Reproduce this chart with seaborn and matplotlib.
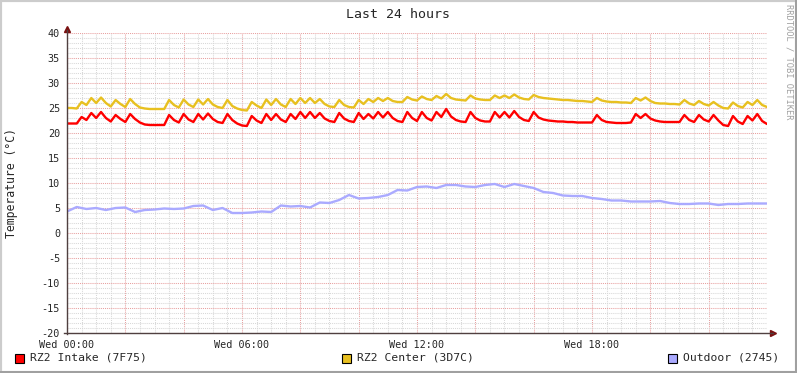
import numpy as np
import pandas as pd
import matplotlib.pyplot as plt
import seaborn as sns
from matplotlib.patches import Rectangle
from matplotlib.ticker import MultipleLocator, FixedLocator, FuncFormatter

# rack sensors, 10 minute samples starting Wed 00:00
rack_hours = [i / 6 for i in range(145)]

intake_7f75 = [
    21.9, 21.9, 21.9, 23.2, 22.6, 24.0, 23.0, 24.2, 23.0, 22.3,
    23.6, 22.8, 22.2, 23.8, 22.8, 22.1, 21.7, 21.6, 21.6, 21.6,
    21.6, 23.6, 22.6, 22.1, 23.8, 22.7, 22.2, 23.8, 22.7, 23.9,
    22.8, 22.2, 22.0, 23.8, 22.6, 21.9, 21.5, 21.4, 23.4, 22.5,
    22.0, 23.8, 22.6, 23.8, 22.7, 22.2, 23.8, 22.8, 24.2, 23.0,
    24.2, 23.0, 24.0, 22.9, 22.4, 22.2, 24.0, 22.9, 22.4, 22.2,
    24.0, 22.8, 23.8, 22.9, 24.2, 23.1, 24.2, 23.0, 22.4, 22.2,
    24.2, 23.0, 22.4, 24.2, 23.0, 22.5, 24.2, 23.2, 24.8, 23.3,
    22.6, 22.3, 22.2, 24.2, 23.0, 22.5, 22.3, 22.3, 24.2, 23.1,
    24.2, 23.1, 24.4, 23.2, 22.6, 22.4, 24.2, 23.1, 22.7, 22.5,
    22.4, 22.3, 22.3, 22.2, 22.2, 22.1, 22.1, 22.1, 22.1, 23.6,
    22.6, 22.2, 22.1, 22.0, 22.0, 22.0, 22.1, 23.8, 23.0, 23.8,
    22.9, 22.5, 22.3, 22.2, 22.2, 22.2, 22.2, 23.6, 22.6, 22.2,
    23.6, 22.7, 22.3, 23.6, 22.5, 21.6, 21.4, 23.4, 22.3, 21.8,
    23.4, 22.5, 23.8, 22.4, 21.8,
]

center_3d7c = [
    25.0, 25.0, 24.9, 26.2, 25.6, 27.0, 26.0, 27.1, 26.0, 25.3,
    26.6, 25.8, 25.2, 26.8, 25.8, 25.1, 24.9, 24.8, 24.8, 24.8,
    24.8, 26.6, 25.6, 25.1, 26.7, 25.7, 25.2, 26.7, 25.7, 26.8,
    25.7, 25.2, 25.0, 26.6, 25.4, 24.9, 24.6, 24.5, 26.2, 25.5,
    25.0, 26.7, 25.6, 26.8, 25.7, 25.2, 26.8, 25.8, 27.0, 26.0,
    27.0, 26.0, 26.8, 25.8, 25.3, 25.2, 26.6, 25.6, 25.2, 25.1,
    26.6, 25.8, 26.8, 26.2, 27.0, 26.4, 27.0, 26.4, 26.2, 26.2,
    27.2, 26.7, 26.5, 27.3, 26.8, 26.6, 27.4, 26.9, 27.8, 27.0,
    26.7, 26.6, 26.5, 27.5, 26.9, 26.7, 26.6, 26.6, 27.5, 27.0,
    27.5, 27.0, 27.7, 27.1, 26.8, 26.7, 27.6, 27.2, 27.0, 26.9,
    26.8, 26.7, 26.6, 26.6, 26.5, 26.4, 26.4, 26.3, 26.2, 27.0,
    26.5, 26.3, 26.2, 26.2, 26.1, 26.1, 26.0, 27.0, 26.5, 27.1,
    26.4, 26.0, 25.9, 25.9, 25.8, 25.8, 25.7, 26.6, 25.9, 25.6,
    26.4, 25.8, 25.5, 26.2, 25.5, 25.0, 24.9, 26.1, 25.4, 25.1,
    26.2, 25.6, 26.6, 25.6, 25.2,
]

# outdoor sensor, 20 minute samples
outdoor_hours = [i / 3 for i in range(73)]
outdoor_2745 = [
    4.3, 5.2, 4.8, 5.0, 4.6, 5.0, 5.1, 4.2, 4.6, 4.7,
    4.9, 4.8, 4.9, 5.4, 5.5, 4.6, 5.0, 4.0, 4.0, 4.1,
    4.3, 4.2, 5.5, 5.3, 5.4, 5.1, 6.1, 6.0, 6.6, 7.6,
    6.9, 7.0, 7.2, 7.6, 8.6, 8.5, 9.2, 9.3, 9.0, 9.6,
    9.6, 9.3, 9.2, 9.6, 9.8, 9.2, 9.8, 9.4, 9.0, 8.2,
    8.0, 7.5, 7.4, 7.4, 7.0, 6.8, 6.5, 6.5, 6.3, 6.3,
    6.3, 6.4, 6.0, 5.8, 5.8, 5.9, 5.9, 5.6, 5.8, 5.8,
    5.9, 5.9, 5.9,
]

series_names = ['RZ2 Intake (7F75)', 'RZ2 Center (3D7C)', 'Outdoor (2745)']
series_colors = ['#FF0000', '#E8C020', '#AAAAFF']

df = pd.concat([
    pd.DataFrame({'hours': rack_hours, 'temp': intake_7f75, 'sensor': series_names[0]}),
    pd.DataFrame({'hours': rack_hours, 'temp': center_3d7c, 'sensor': series_names[1]}),
    pd.DataFrame({'hours': outdoor_hours, 'temp': outdoor_2745, 'sensor': series_names[2]}),
])

sns.set_style('white')
plt.rcParams['font.family'] = ['DejaVu Sans Mono']

W, H = 797, 373
fig = plt.figure(figsize=(W / 100, H / 100), dpi=100)
fig.patch.set_facecolor('white')
ax = fig.add_axes([67 / W, 1 - 333 / H, 700 / W, 300 / H])

sns.lineplot(data=df, x='hours', y='temp', hue='sensor', hue_order=series_names,
             palette=series_colors, estimator=None, linewidth=1.7,
             legend=False, ax=ax)

ax.set_xlim(0, 24)
ax.set_ylim(-20, 40)

# grid: gray minor, reddish major
ax.xaxis.set_major_locator(FixedLocator(list(range(0, 24, 2))))
ax.xaxis.set_minor_locator(MultipleLocator(0.5))
ax.yaxis.set_major_locator(MultipleLocator(5))
ax.yaxis.set_minor_locator(MultipleLocator(1))
ax.xaxis.set_major_formatter(FuncFormatter(
    lambda v, p: 'Wed %02d:00' % v if v % 6 == 0 else ''))
ax.yaxis.set_major_formatter(FuncFormatter(lambda v, p: '%d' % v))

ax.grid(which='minor', color='#D8D8D8', linestyle=(0, (1, 1)), linewidth=0.75)
ax.grid(which='major', color='#E8A0A0', linestyle=(0, (1, 1)), linewidth=0.75)
ax.set_axisbelow(True)

ax.tick_params(which='major', direction='out', length=3, width=0.75,
               color='#E08080', labelsize=7.3, pad=2)
ax.tick_params(which='minor', direction='out', length=2, width=0.75, color='#B0B0B0')

for s in ['top', 'right']:
    ax.spines[s].set_visible(False)
for s in ['left', 'bottom']:
    ax.spines[s].set_color('#504040')
    ax.spines[s].set_linewidth(1.0)
ax.spines['bottom'].set_bounds(-0.1, 24.2)
ax.spines['left'].set_bounds(-20.2, 40.6)

# axis arrows
ax.plot([1.008], [0], marker='>', color='#7A1010', markersize=4.5,
        transform=ax.transAxes, clip_on=False)
ax.plot([0], [1.012], marker='^', color='#7A1010', markersize=4.5,
        transform=ax.transAxes, clip_on=False)

ax.set_xlabel('')
ax.set_ylabel('')
fig.text(12 / W, 1 - 183 / H, 'Temperature (°C)', rotation=90,
         ha='center', va='center', fontsize=8.3)

fig.text(0.5, 1 - 14 / H, 'Last 24 hours', ha='center', va='center', fontsize=9.5)
fig.text(789 / W, 1 - 4 / H, 'RRDTOOL / TOBI OETIKER', rotation=270,
         ha='center', va='top', fontsize=6.3, color='#A0A0A0')

# legend row
legend_x = [15, 342, 668]
for lx, name, col in zip(legend_x, series_names, series_colors):
    fig.patches.append(Rectangle((lx / W, 1 - 363 / H), 9 / W, 9 / H, transform=fig.transFigure,
                                 facecolor=col, edgecolor='black', linewidth=0.8))
    fig.text((lx + 15) / W, 1 - 358 / H, name, ha='left', va='center', fontsize=8.2)

# rrdtool style frame
fig.patches.append(Rectangle((0, 0), 1, 1, transform=fig.transFigure, fill=False,
                             edgecolor='#CCCCCC', linewidth=3))
fig.patches.append(Rectangle((0, 0), 1, 2 / H, transform=fig.transFigure,
                             facecolor='#A0A0A0', edgecolor='none'))
fig.patches.append(Rectangle((1 - 2 / W, 0), 2 / W, 1, transform=fig.transFigure,
                             facecolor='#A0A0A0', edgecolor='none'))

fig.savefig('out.png', dpi=100)
